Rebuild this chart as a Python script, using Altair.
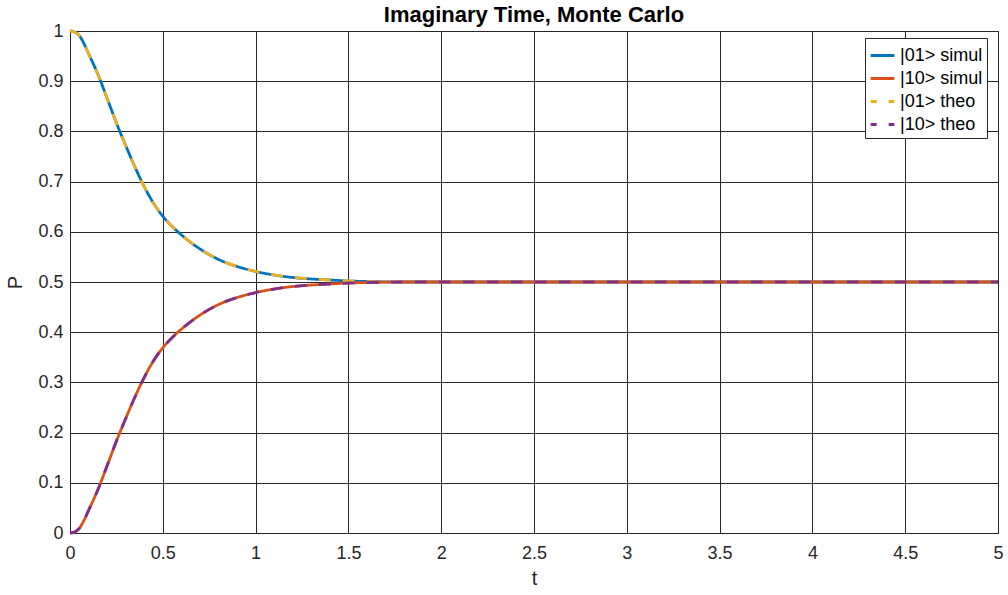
import altair as alt
import pandas as pd

# time samples
t = [0, 0.025, 0.05, 0.075, 0.1, 0.15, 0.2, 0.25, 0.3, 0.35, 0.4, 0.45, 0.5, 0.55,
     0.6, 0.7, 0.8, 0.9, 1.0, 1.1, 1.2, 1.3, 1.4, 1.5, 1.6, 1.8, 2.0, 2.5, 3.0,
     3.5, 4.0, 4.5, 5.0]

# populations of |01> and |10>
p01_simul = [1.0, 0.998, 0.991, 0.975, 0.955, 0.914, 0.866, 0.817, 0.772, 0.729,
             0.69, 0.657, 0.631, 0.611, 0.594, 0.566, 0.545, 0.531, 0.521, 0.514,
             0.509, 0.506, 0.504, 0.502, 0.501, 0.5, 0.5, 0.5, 0.5, 0.5, 0.5, 0.5, 0.5]
p10_simul = [0.0, 0.002, 0.009, 0.025, 0.045, 0.086, 0.134, 0.183, 0.228, 0.271,
             0.31, 0.343, 0.369, 0.389, 0.406, 0.434, 0.455, 0.469, 0.479, 0.486,
             0.491, 0.494, 0.496, 0.498, 0.499, 0.5, 0.5, 0.5, 0.5, 0.5, 0.5, 0.5, 0.5]
p01_theo = [1.0, 0.998, 0.991, 0.975, 0.955, 0.914, 0.866, 0.817, 0.772, 0.729,
            0.69, 0.657, 0.631, 0.611, 0.594, 0.566, 0.545, 0.531, 0.521, 0.514,
            0.509, 0.506, 0.504, 0.502, 0.501, 0.5, 0.5, 0.5, 0.5, 0.5, 0.5, 0.5, 0.5]
p10_theo = [0.0, 0.002, 0.009, 0.025, 0.045, 0.086, 0.134, 0.183, 0.228, 0.271,
            0.31, 0.343, 0.369, 0.389, 0.406, 0.434, 0.455, 0.469, 0.479, 0.486,
            0.491, 0.494, 0.496, 0.498, 0.499, 0.5, 0.5, 0.5, 0.5, 0.5, 0.5, 0.5, 0.5]

series_names = ["|01> simul", "|10> simul", "|01> theo", "|10> theo"]
series_colors = ["#0072BD", "#D95319", "#EDB120", "#7E2F8E"]
series_dash = [[1, 0], [1, 0], [12, 12], [12, 12]]

x_ticks = [0, 0.5, 1, 1.5, 2, 2.5, 3, 3.5, 4, 4.5, 5]
y_ticks = [0, 0.1, 0.2, 0.3, 0.4, 0.5, 0.6, 0.7, 0.8, 0.9, 1]

rows = []
for name, vals in zip(series_names, [p01_simul, p10_simul, p01_theo, p10_theo]):
    for ti, v in zip(t, vals):
        rows.append({"t": ti, "P": v, "series": name})
df = pd.DataFrame(rows)

FONT = "Liberation Sans"
INK = "#262626"
LW = 2.8

color = alt.Color(
    "series:N",
    scale=alt.Scale(domain=series_names, range=series_colors),
    legend=alt.Legend(
        title=None,
        orient="none",
        legendX=795,
        legendY=7,
        symbolType="stroke",
        symbolSize=560,
        symbolStrokeWidth=LW,
        symbolDashOffset=6,
        labelFont=FONT,
        labelFontSize=18,
        labelColor="#000000",
        labelOffset=4,
        rowPadding=0,
        padding=4,
        fillColor="white",
        strokeColor=INK,
    ),
)
dash = alt.StrokeDash(
    "series:N",
    scale=alt.Scale(domain=series_names, range=series_dash),
    legend=alt.Legend(title=None),
)

x = alt.X(
    "t:Q",
    title="t",
    scale=alt.Scale(domain=[0, 5], nice=False),
    axis=alt.Axis(values=x_ticks, format="~g", labelPadding=11, titlePadding=6,
                  labelFlush=False),
)
y = alt.Y(
    "P:Q",
    title="P",
    scale=alt.Scale(domain=[0, 1], nice=False),
    axis=alt.Axis(values=y_ticks, format="~g", labelPadding=7, titlePadding=12,
                  labelFlush=False),
)

base = alt.Chart(df).encode(x=x, y=y, color=color, strokeDash=dash, order=alt.Order("t:Q"))

simul = base.transform_filter(
    alt.FieldOneOfPredicate(field="series", oneOf=series_names[:2])
).mark_line(strokeWidth=LW, interpolate="monotone")
theo = base.transform_filter(
    alt.FieldOneOfPredicate(field="series", oneOf=series_names[2:])
).mark_line(strokeWidth=LW, interpolate="monotone")

chart = (
    alt.layer(simul, theo)
    .properties(
        width=928,
        height=502,
        title=alt.TitleParams(
            "Imaginary Time, Monte Carlo",
            font=FONT,
            fontSize=22,
            fontWeight="bold",
            color="#000000",
            anchor="middle",
            baseline="alphabetic",
            offset=1,
            dy=23,
        ),
        autosize=alt.AutoSizeParams(type="none"),
        padding={"left": 70, "top": 31, "right": 10, "bottom": 62},
    )
    .configure_view(stroke=INK, strokeWidth=1)
    .configure_axis(
        labelFont=FONT,
        labelFontSize=18,
        labelColor=INK,
        titleFont=FONT,
        titleFontSize=20,
        titleFontWeight="normal",
        titleColor=INK,
        gridColor=INK,
        gridOpacity=1,
        gridWidth=1,
        domainColor=INK,
        domainWidth=1,
        ticks=False,
    )
)

chart.save("out.html", embed_options={"renderer": "svg", "actions": False})
